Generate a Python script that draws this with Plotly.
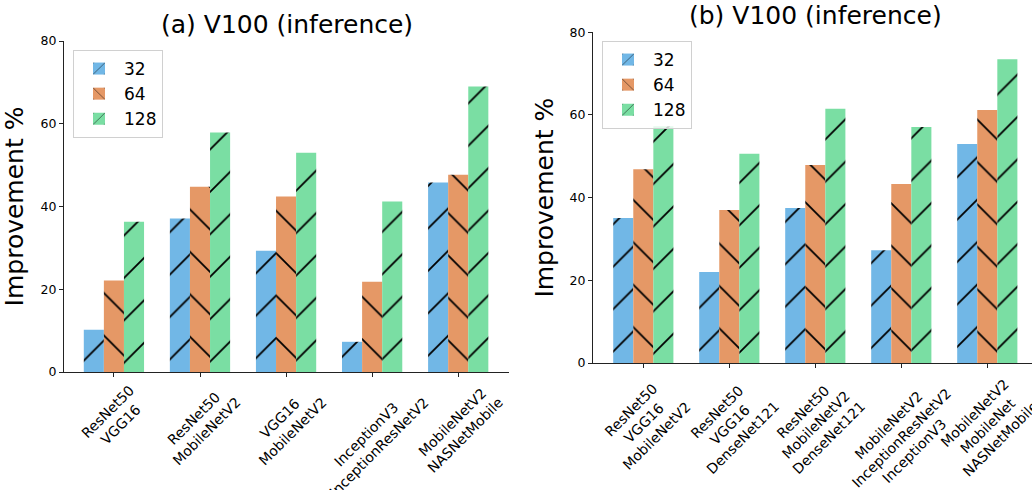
import plotly.graph_objects as go

# ---- data ----
cats_a = ["ResNet50<br>VGG16", "ResNet50<br>MobileNetV2", "VGG16<br>MobileNetV2",
          "InceptionV3<br>InceptionResNetV2", "MobileNetV2<br>NASNetMobile"]
cats_b = ["ResNet50<br>VGG16<br>MobileNetV2", "ResNet50<br>VGG16<br>DenseNet121",
          "ResNet50<br>MobileNetV2<br>DenseNet121",
          "MobileNetV2<br>InceptionResNetV2<br>InceptionV3",
          "MobileNetV2<br>MobileNet<br>NASNetMobile"]
series_names = ["32", "64", "128"]
vals_a_32 = [10.2, 37.1, 29.3, 7.3, 45.8]
vals_a_64 = [22.1, 44.8, 42.4, 21.8, 47.7]
vals_a_128 = [36.3, 57.9, 53.0, 41.2, 69.0]
vals_b_32 = [35.1, 22.0, 37.5, 27.3, 53.0]
vals_b_64 = [46.9, 37.0, 47.9, 43.3, 61.2]
vals_b_128 = [57.3, 50.6, 61.5, 57.1, 73.5]
y_ticks = [0, 20, 40, 60, 80]

colors = ["rgb(113,183,230)", "rgb(229,152,102)", "rgb(122,222,163)"]
hatches = ["/", "\\", "/"]
FONT = "DejaVu Sans"
W, H = 1032, 490

fig = go.Figure()
for panel, (cats, vals, xa, ya, lg) in enumerate([
        (cats_a, [vals_a_32, vals_a_64, vals_a_128], "x", "y", "legend"),
        (cats_b, [vals_b_32, vals_b_64, vals_b_128], "x2", "y2", "legend2")]):
    for i, name in enumerate(series_names):
        fig.add_trace(go.Bar(
            x=cats, y=vals[i], name=name, xaxis=xa, yaxis=ya, legend=lg,
            marker=dict(color=colors[i], line=dict(width=0),
                        pattern=dict(shape=hatches[i], fgcolor="black",
                                     bgcolor=colors[i], size=30, solidity=0.06,
                                     fillmode="replace")),
        ))

def px_x(p):
    return p / W

def px_y(p):
    return 1 - p / H

axis_common = dict(showgrid=False, zeroline=False, showline=True, linecolor="#222",
                   linewidth=1, ticks="outside", ticklen=4, tickcolor="#222",
                   mirror=False, automargin=False)

legend_common = dict(xanchor="left", yanchor="top",
                     bgcolor="rgba(255,255,255,0.8)", bordercolor="#d0d0d0", borderwidth=1,
                     font=dict(size=17, family=FONT), itemwidth=40,
                     entrywidth=50, entrywidthmode="pixels")

fig.update_layout(
    width=W, height=H, margin=dict(l=0, r=0, t=0, b=0, autoexpand=False),
    paper_bgcolor="white", plot_bgcolor="white",
    barmode="group", bargap=0.3, bargroupgap=0,
    font=dict(family=FONT, color="black"),
    xaxis=dict(domain=[px_x(64), px_x(509)], anchor="y", type="category",
               range=[-0.58, 4.59], showticklabels=False, **axis_common),
    yaxis=dict(domain=[px_y(372), px_y(41)], anchor="x", range=[0, 80],
               tickvals=y_ticks, tickfont=dict(size=12.5, family=FONT),
               title=dict(text="Improvement %", font=dict(size=25, family=FONT), standoff=14),
               **axis_common),
    xaxis2=dict(domain=[px_x(593), 1.0], anchor="y2", type="category",
                range=[-0.585, 4.52], showticklabels=False, **axis_common),
    yaxis2=dict(domain=[px_y(363), px_y(32.3)], anchor="x2", range=[0, 80],
                tickvals=y_ticks, tickfont=dict(size=12.5, family=FONT),
                title=dict(text="Improvement %", font=dict(size=25, family=FONT), standoff=8),
                **axis_common),
    legend=dict(x=px_x(73), y=px_y(50), **legend_common),
    legend2=dict(x=px_x(602), y=px_y(41), **legend_common),
)

# titles
fig.add_annotation(text="(a) V100 (inference)", x=px_x(286.5), y=px_y(25), xref="paper",
                   yref="paper", showarrow=False, font=dict(size=25, family=FONT),
                   xanchor="center", yanchor="middle")
fig.add_annotation(text="(b) V100 (inference)", x=px_x(815), y=px_y(16), xref="paper",
                   yref="paper", showarrow=False, font=dict(size=25, family=FONT),
                   xanchor="center", yanchor="middle")

# rotated category labels (centered like matplotlib)
for cats, xr, yr in [(cats_a, "x", "y domain"), (cats_b, "x2", "y2 domain")]:
    for c in cats:
        fig.add_annotation(text=c, x=c, y=0, xref=xr, yref=yr, showarrow=False,
                           textangle=-45, xanchor="center", yanchor="top", yshift=-7,
                           align="center", font=dict(size=14, family=FONT))

fig.write_html("out.html")
